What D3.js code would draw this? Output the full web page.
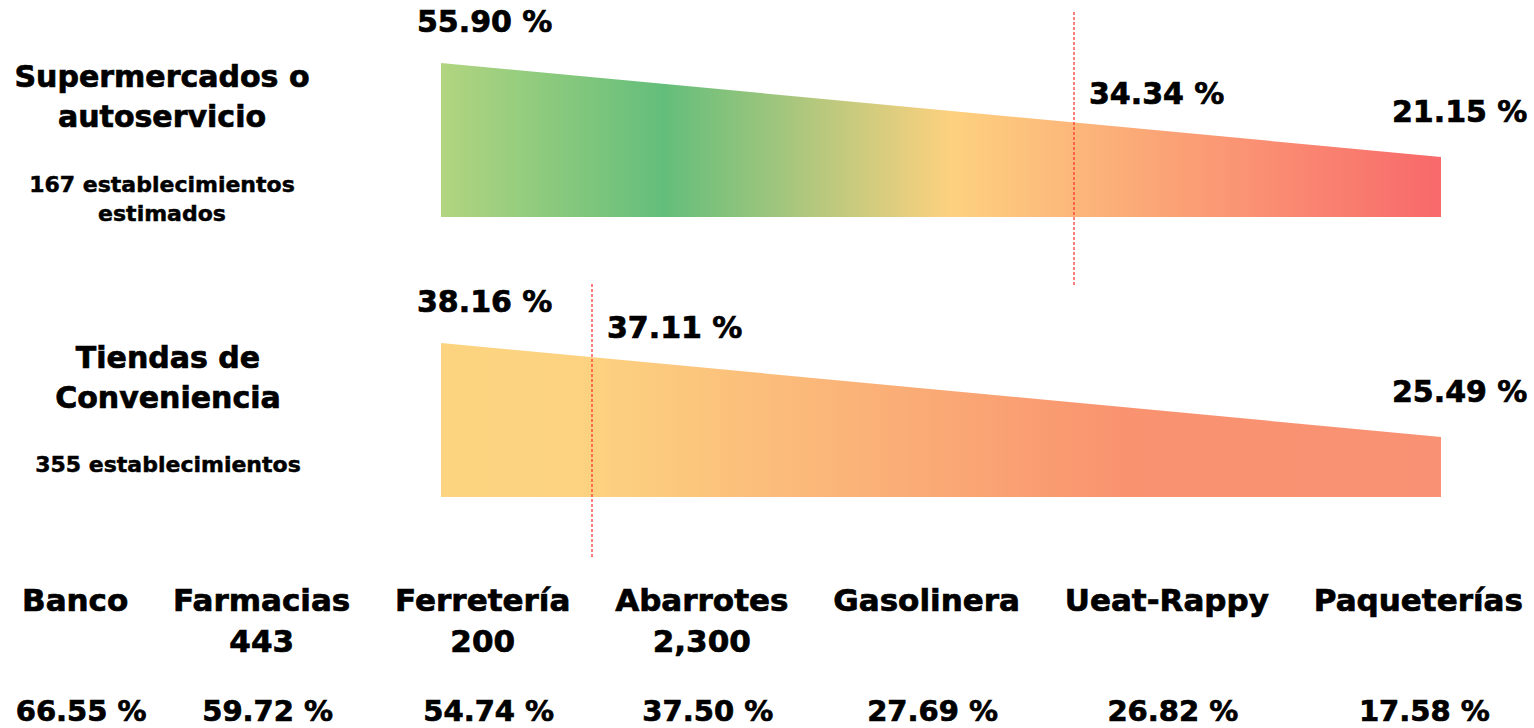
<!DOCTYPE html>
<html>
<head>
<meta charset="utf-8">
<script src="https://cdn.jsdelivr.net/npm/d3@7"></script>
<style>
  body { margin: 0; background: #fff; overflow: hidden; }
  svg { display: block; }
  text { font-family: "DejaVu Sans", Verdana, sans-serif; font-weight: bold; fill: #000; stroke: #000; stroke-width: 0.7px; }
</style>
</head>
<body>
<script>
// values
var groupTitles = [['Supermercados o', 'autoservicio'], ['Tiendas de', 'Conveniencia']];
var groupNotes = [['167 establecimientos', 'estimados'], ['355 establecimientos']];
var superValues = [55.90, 34.34, 21.15];
var convValues = [38.16, 37.11, 25.49];

var categories = ['Banco', 'Farmacias', 'Ferretería', 'Abarrotes', 'Gasolinera', 'Ueat-Rappy', 'Paqueterías'];
var categoryCounts = ['', '443', '200', '2,300', '', '', ''];
var categoryValues = [66.55, 59.72, 54.74, 37.50, 27.69, 26.82, 17.58];

var width = 1534;
var height = 728;

var svg = d3.select('body').append('svg')
  .attr('width', width)
  .attr('height', height);

var defs = svg.append('defs');

// layout of the two wedges
var groups = [
  { values: superValues, base: 217, stops: [0, 0.633, 1], lineTop: 12, lineBottom: 287, titleY: 87, noteY: 192, cx: 162,
    colors: [[0, '#b2d580'], [0.223, '#63be7b'], [0.51, '#fdd17f'], [1, '#f8696b']] },
  { values: convValues, base: 497, stops: [0, 0.151, 1], lineTop: 284, lineBottom: 557, titleY: 368, noteY: 472, cx: 168,
    colors: [[0, '#fcd480'], [0.15, '#fcd280'], [0.69, '#f9926f'], [1, '#f99274']] }
];

var x = d3.scaleLinear().domain([0, 1]).range([441, 1441]);
var labelDx = [-24, 15, -49];
var labelDy = [-31, -19, -35];

var fmt = function(v) { return v.toFixed(2) + ' %'; };

groups.forEach(function(g, gi) {
  var vals = g.values;
  var n = vals.length;
  // wedge height: first and last value set the two ends
  var h = d3.scaleLinear().domain([vals[n - 1], vals[0]]).range([60, 154]);
  var topAt = function(f) {
    return g.base - (h(vals[0]) + (h(vals[n - 1]) - h(vals[0])) * f);
  };

  var grad = defs.append('linearGradient')
    .attr('id', 'grad' + gi)
    .attr('gradientUnits', 'userSpaceOnUse')
    .attr('x1', x(0)).attr('x2', x(1))
    .attr('y1', 0).attr('y2', 0);
  grad.selectAll('stop')
    .data(g.colors)
    .enter().append('stop')
    .attr('offset', function(d) { return d[0]; })
    .attr('stop-color', function(d) { return d[1]; });

  var pts = vals.map(function(v, i) { return { v: v, f: g.stops[i] }; });
  var ends = [pts[0], pts[n - 1]];

  var area = d3.area()
    .x(function(d) { return x(d.f); })
    .y0(g.base)
    .y1(function(d) { return g.base - h(d.v); });

  svg.append('path')
    .datum(ends)
    .attr('d', area)
    .attr('fill', 'url(#grad' + gi + ')');

  // dashed marker at the middle point
  svg.append('line')
    .attr('x1', x(g.stops[1])).attr('x2', x(g.stops[1]))
    .attr('y1', g.lineTop).attr('y2', g.lineBottom)
    .attr('stroke', '#ff2a2a')
    .attr('stroke-width', 1.2)
    .attr('stroke-dasharray', '3,2');

  svg.selectAll('.val' + gi)
    .data(pts)
    .enter().append('text')
    .attr('class', 'val' + gi)
    .attr('x', function(d, i) { return x(d.f) + labelDx[i]; })
    .attr('y', function(d, i) { return topAt(d.f) + labelDy[i]; })
    .style('font-size', '30px')
    .text(function(d) { return fmt(d.v); });

  svg.selectAll('.title' + gi)
    .data(groupTitles[gi])
    .enter().append('text')
    .attr('class', 'title' + gi)
    .attr('x', g.cx)
    .attr('y', function(d, i) { return g.titleY + i * 40; })
    .attr('text-anchor', 'middle')
    .style('font-size', '30px')
    .text(function(d) { return d; });

  svg.selectAll('.note' + gi)
    .data(groupNotes[gi])
    .enter().append('text')
    .attr('class', 'note' + gi)
    .attr('x', g.cx)
    .attr('y', function(d, i) { return g.noteY + i * 29; })
    .attr('text-anchor', 'middle')
    .style('font-size', '22px')
    .style('stroke-width', '0.5px')
    .text(function(d) { return d; });
});

// bottom row: names spread between the margins with equal gaps
var rowLeft = 22, rowRight = 1523;
var names = svg.selectAll('.cat')
  .data(categories)
  .enter().append('text')
  .attr('class', 'cat')
  .attr('y', 611)
  .style('font-size', '31px')
  .text(function(d) { return d; });

var widths = [];
names.each(function() { widths.push(this.getComputedTextLength()); });
var gap = (rowRight - rowLeft - d3.sum(widths)) / (categories.length - 1);
var centers = [];
var pos = rowLeft;
widths.forEach(function(w) { centers.push(pos + w / 2); pos += w + gap; });

names.attr('x', function(d, i) { return centers[i]; })
  .attr('text-anchor', 'middle');

svg.selectAll('.count')
  .data(categoryCounts)
  .enter().append('text')
  .attr('class', 'count')
  .attr('x', function(d, i) { return centers[i]; })
  .attr('y', 652)
  .attr('text-anchor', 'middle')
  .style('font-size', '31px')
  .text(function(d) { return d; });

svg.selectAll('.pct')
  .data(categoryValues)
  .enter().append('text')
  .attr('class', 'pct')
  .attr('x', function(d, i) { return centers[i] + 6; })
  .attr('y', 721)
  .attr('text-anchor', 'middle')
  .style('font-size', '29px')
  .text(fmt);
</script>
</body>
</html>
